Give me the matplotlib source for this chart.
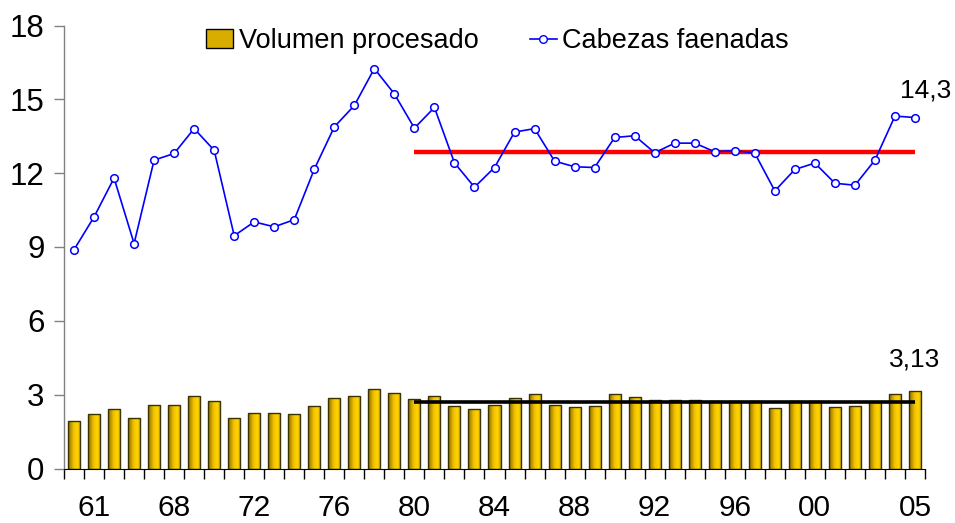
import matplotlib
matplotlib.use("Agg")
import matplotlib.pyplot as plt
import numpy as np
from matplotlib.colors import LinearSegmentedColormap
from matplotlib.patches import Patch
from matplotlib.lines import Line2D

plt.rcParams['font.family'] = ['Liberation Sans', 'DejaVu Sans']

years = list(range(1963, 2006))
volumen = [1.94, 2.20, 2.43, 2.04, 2.57, 2.59, 2.96, 2.73, 2.05, 2.24,
           2.24, 2.23, 2.55, 2.88, 2.96, 3.22, 3.08, 2.84, 2.95, 2.55,
           2.43, 2.57, 2.85, 3.02, 2.57, 2.50, 2.55, 3.01, 2.92, 2.78,
           2.79, 2.78, 2.76, 2.75, 2.75, 2.46, 2.74, 2.74, 2.48, 2.53,
           2.72, 3.02, 3.13]
cabezas = [8.89, 10.22, 11.80, 9.14, 12.53, 12.80, 13.81, 12.93, 9.46, 10.02,
           9.82, 10.11, 12.16, 13.88, 14.75, 16.25, 15.22, 13.83, 14.67, 12.42,
           11.43, 12.23, 13.67, 13.81, 12.49, 12.26, 12.23, 13.45, 13.52, 12.83,
           13.22, 13.22, 12.87, 12.92, 12.81, 11.28, 12.15, 12.41, 11.59, 11.51,
           12.53, 14.32, 14.26]
avg_start_year = 1980
avg_cabezas = 12.84
avg_volumen = 2.72
tick_years = [1964, 1968, 1972, 1976, 1980, 1984, 1988, 1992, 1996, 2000, 2005]
tick_labels = ['61', '68', '72', '76', '80', '84', '88', '92', '96', '00', '05']
label_cabezas = '14,3'
label_volumen = '3,13'

fig = plt.figure(figsize=(9.55, 5.23), dpi=100)
ax = fig.add_axes([64/955, 1-468.5/523, 861/955, 443/523])

x = np.arange(len(years))
bars = ax.bar(x, volumen, width=0.6, color='none', edgecolor='#3a3300', linewidth=1.0, zorder=3)

cmap = LinearSegmentedColormap.from_list('gold', [(0.0, '#8a6c00'), (0.45, '#f4c400'),
                                                  (0.75, '#ffd400'), (1.0, '#bf9a00')])
grad = np.linspace(0, 1, 64).reshape(1, -1)
for b in bars:
    bx, by = b.get_x(), b.get_y()
    bw, bh = b.get_width(), b.get_height()
    im = ax.imshow(grad, cmap=cmap, aspect='auto', extent=[bx, bx + bw, by, by + bh],
                   zorder=2, interpolation='bilinear')
    im.set_clip_path(b)

ax.plot(x, cabezas, color='#0000ff', lw=1.2, marker='o', markersize=5.5,
        markerfacecolor='white', markeredgecolor='#0000ff', markeredgewidth=1.1, zorder=5)

i0 = years.index(avg_start_year)
ax.plot([x[i0], x[-1]], [avg_cabezas, avg_cabezas], color='#ff0000', lw=3.2, zorder=4,
        solid_capstyle='butt')
ax.plot([x[i0], x[-1]], [avg_volumen, avg_volumen], color='black', lw=2.6, zorder=4,
        solid_capstyle='butt')

ax.annotate(label_cabezas, (x[-1], cabezas[-1]), xytext=(8, 14.5), textcoords='offset points',
            ha='center', va='baseline', fontsize=19)
ax.annotate(label_volumen, (x[-1], volumen[-1]), xytext=(0, 18), textcoords='offset points',
            ha='center', va='baseline', fontsize=19)

ax.set_xlim(-0.5, len(years) - 0.5)
ax.set_ylim(0, 18)
ax.set_yticks(np.arange(0, 19, 3))
ax.set_xticks(np.arange(-0.5, len(years), 1.0))
ax.set_xticklabels([])
ax.set_xticks([years.index(y) for y in tick_years], minor=True)
ax.set_xticklabels(tick_labels, minor=True)
ax.tick_params(axis='x', which='major', length=7, width=1, direction='out', color='black')
ax.tick_params(axis='x', which='minor', length=0, pad=18.5, labelsize=21.5)
ax.tick_params(axis='y', length=7, width=1, color='#808080', labelsize=22.5, pad=7)

for s in ['top', 'right']:
    ax.spines[s].set_visible(False)
ax.spines['left'].set_color('#808080')
ax.spines['bottom'].set_color('black')
ax.spines['left'].set_linewidth(1)

handles = [Patch(facecolor='#d9ad00', edgecolor='black', linewidth=1.0),
           Line2D([], [], color='#0000ff', lw=1.2, marker='o', markersize=5.5,
                  markerfacecolor='white', markeredgecolor='#0000ff')]
ax.legend(handles, ['Volumen procesado', 'Cabezas faenadas'], ncol=2, frameon=False,
          loc='center', bbox_to_anchor=(0.5035, 0.965), fontsize=19.5, handlelength=1.0,
          handleheight=0.65, handletextpad=0.2, columnspacing=1.9)

fig.savefig('out.png', dpi=100)
